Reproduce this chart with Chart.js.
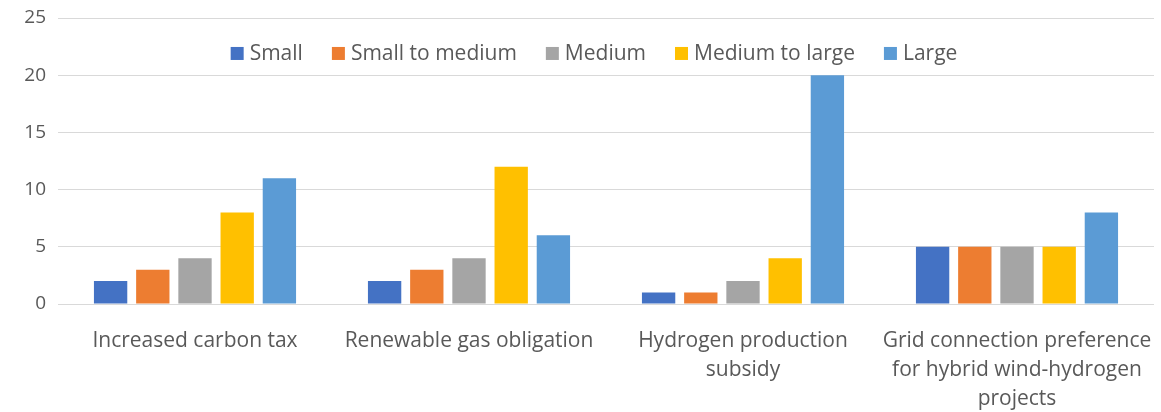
<!DOCTYPE html>
<html>
<head>
<meta charset="utf-8">
<script src="https://cdn.jsdelivr.net/npm/chart.js@4.4.1/dist/chart.umd.min.js"></script>
<style>
  html, body { margin: 0; padding: 0; background: #fff; }
  #wrap { position: relative; width: 1161px; height: 412px; }
</style>
</head>
<body>
<div id="wrap"><canvas id="policyChart"></canvas></div>
<script>
// Categories and series values
const categories = [
    'Increased carbon tax',
    'Renewable gas obligation',
    ['Hydrogen production', 'subsidy'],
    ['Grid connection preference', 'for hybrid wind-hydrogen', 'projects']
];
const seriesNames = ['Small', 'Small to medium', 'Medium', 'Medium to large', 'Large'];
const small = [2, 2, 1, 5];
const smallToMedium = [3, 3, 1, 5];
const medium = [4, 4, 2, 5];
const mediumToLarge = [8, 12, 4, 5];
const large = [11, 6, 20, 8];
const yTicks = [0, 5, 10, 15, 20, 25];

const seriesColors = ['#4472C4', '#ED7D31', '#A5A5A5', '#FFC000', '#5B9BD5'];
const textColor = '#595959';
const fontFamily = '"Open Sans", "Noto Sans", sans-serif';
const labelSize = 21;
const tickSize = 19;

// Legend drawn inside the plot area, between the top gridlines
const innerLegend = {
    id: 'innerLegend',
    afterDraw(chart) {
        const ctx = chart.ctx;
        const sets = chart.data.datasets;
        const box = 13, gap = 6, spacing = 29;
        ctx.save();
        ctx.font = labelSize + 'px ' + fontFamily;
        ctx.textBaseline = 'middle';
        let widths = sets.map(ds => box + gap + ctx.measureText(ds.label).width);
        let total = widths.reduce((a, b) => a + b, 0) + spacing * (sets.length - 1);
        let x = 594 - total / 2;
        const y = chart.scales.y.getPixelForValue(21.9);
        sets.forEach((ds, i) => {
            ctx.fillStyle = ds.backgroundColor;
            ctx.fillRect(x, y - box / 2, box, box);
            ctx.fillStyle = textColor;
            ctx.fillText(ds.label, x + box + gap, y + 1);
            x += widths[i] + spacing;
        });
        ctx.restore();
    }
};

const seriesData = [small, smallToMedium, medium, mediumToLarge, large];

new Chart(document.getElementById('policyChart'), {
    type: 'bar',
    data: {
        labels: categories,
        datasets: seriesNames.map((name, i) => ({
            label: name,
            data: seriesData[i],
            backgroundColor: seriesColors[i],
            borderWidth: 0,
            categoryPercentage: 0.77,
            barPercentage: 0.79
        }))
    },
    options: {
        responsive: true,
        maintainAspectRatio: false,
        animation: false,
        layout: { padding: { top: 18, right: 7, left: 0, bottom: 0 } },
        plugins: {
            legend: { display: false },
            tooltip: { enabled: false }
        },
        scales: {
            x: {
                grid: { display: false },
                border: { display: false },
                ticks: {
                    color: textColor,
                    font: { family: fontFamily, size: labelSize, lineHeight: 1.4 },
                    padding: 14,
                    maxRotation: 0,
                    autoSkip: false
                },
                afterFit(scale) {
                    // long category names may hang past the plot edges
                    scale.height = 108;
                    scale.paddingLeft = 0;
                    scale.paddingRight = 0;
                }
            },
            y: {
                min: 0,
                max: 25,
                afterBuildTicks(scale) { scale.ticks = yTicks.map(v => ({ value: v })); },
                grid: { color: '#D9D9D9', lineWidth: 1, drawTicks: false },
                border: { display: false },
                ticks: {
                    color: textColor,
                    font: { family: fontFamily, size: tickSize },
                    padding: 12
                },
                afterFit(scale) {
                    scale.width = 58;
                    scale.paddingTop = 0;
                    scale.paddingBottom = 0;
                }
            }
        }
    },
    plugins: [innerLegend]
});
</script>
</body>
</html>
